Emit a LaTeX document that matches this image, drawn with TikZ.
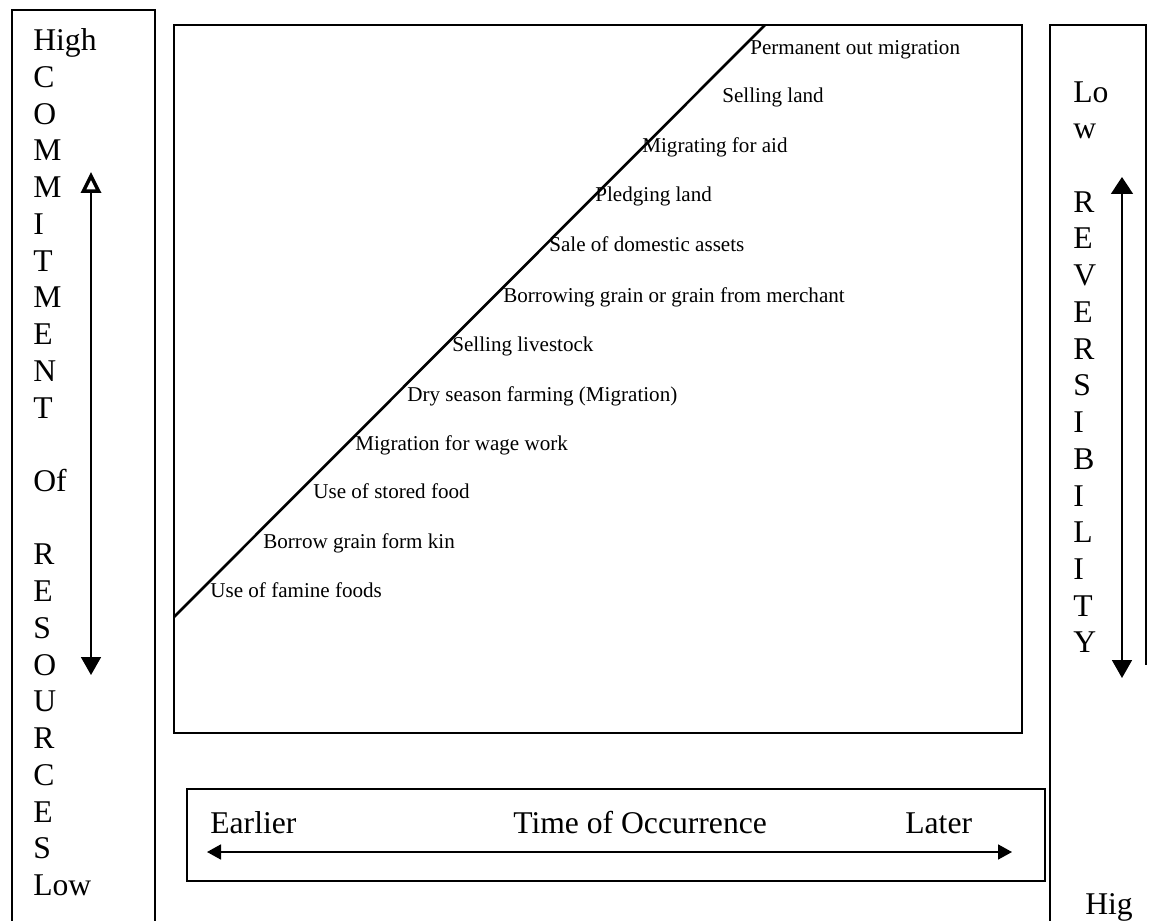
\documentclass[tikz,border=0pt]{standalone}
\usepackage{fontspec}
\setmainfont{Liberation Serif}
\usetikzlibrary{arrows.meta}
\tikzset{
    boxline/.style={draw=black, line width=1.1pt},
    colword/.style={font=\fontsize{18}{20.9}\selectfont, align=left, inner sep=0pt, anchor=north west},
    stagelabel/.style={font=\fontsize{12}{14}\selectfont, inner sep=0pt, anchor=base west},
    timeword/.style={font=\fontsize{18}{20}\selectfont, inner sep=0pt, anchor=base west},
    openvertarrow/.style={{Triangle[open,length=0.42cm,width=0.4cm,line width=2pt]}-{Triangle[length=0.36cm,width=0.4cm]}, line width=1pt},
    fullvertarrow/.style={{Triangle[length=0.34cm,width=0.44cm]}-{Triangle[length=0.36cm,width=0.4cm]}, line width=1pt},
    timearrow/.style={{Triangle[length=0.28cm,width=0.3cm]}-{Triangle[length=0.28cm,width=0.3cm]}, line width=1pt},
}

\begin{document}
\begin{tikzpicture}
    \useasboundingbox (0,0) rectangle (23.02,-18.42);

    % side frames, open at the bottom
    \draw[boxline] (0.24,-18.6) |- (3.10,-0.2) -- (3.10,-18.6);
    \draw[boxline] (21.0,-18.6) |- (22.92,-0.5) -- (22.92,-13.3);

    % main frame and strategy line
    \draw[boxline] (3.48,-0.5) rectangle (20.44,-14.66);
    \coordinate (diagstart) at (3.48,-12.34);
    \coordinate (diagend) at (15.3,-0.5);
    \draw[line width=1.5pt] (diagstart) -- (diagend);

    \node[stagelabel] (famine) at (4.2,-11.94) {Use of famine foods};
    \node[stagelabel] (kin) at (5.26,-10.96) {Borrow grain form kin};
    \node[stagelabel] (stored) at (6.26,-9.96) {Use of stored food};
    \node[stagelabel] (wage) at (7.1,-9.0) {Migration for wage work};
    \node[stagelabel] (dryseason) at (8.14,-8.04) {Dry season farming (Migration)};
    \node[stagelabel] (livestock) at (9.04,-7.02) {Selling livestock};
    \node[stagelabel] (merchant) at (10.06,-6.04) {Borrowing grain or grain from merchant};
    \node[stagelabel] (assets) at (10.98,-5.04) {Sale of domestic assets};
    \node[stagelabel] (pledging) at (11.9,-4.04) {Pledging land};
    \node[stagelabel] (aid) at (12.84,-3.06) {Migrating for aid};
    \node[stagelabel] (sellland) at (14.44,-2.06) {Selling land};
    \node[stagelabel] (permanent) at (15.0,-1.1) {Permanent out migration};

    % left column: commitment
    \node[colword] (commit) at (0.66,-0.57) {High\\C\\O\\M\\M\\I\\T\\M\\E\\N\\T\\~\\Of\\~\\R\\E\\S\\O\\U\\R\\C\\E\\S\\Low};
    \coordinate (comtop) at (1.82,-3.44);
    \coordinate (combot) at (1.82,-13.5);
    \draw[openvertarrow] (comtop) -- (combot);

    % right column: reversibility
    \node[colword] (revers) at (21.46,-1.62) {Lo\\w\\~\\R\\E\\V\\E\\R\\S\\I\\B\\I\\L\\I\\T\\Y};
    \node[timeword] (hig) at (21.7,-18.28) {Hig};
    \coordinate (revtop) at (22.44,-3.54);
    \coordinate (revbot) at (22.44,-13.56);
    \draw[fullvertarrow] (revtop) -- (revbot);

    % time axis
    \draw[boxline] (3.74,-15.78) rectangle (20.9,-17.62);
    \node[timeword] (earlier) at (4.2,-16.66) {Earlier};
    \node[timeword] (occur) at (10.26,-16.66) {Time of Occurrence};
    \node[timeword] (later) at (18.1,-16.66) {Later};
    \coordinate (timeleft) at (4.14,-17.04);
    \coordinate (timeright) at (20.24,-17.04);
    \draw[timearrow] (timeleft) -- (timeright);
\end{tikzpicture}
\end{document}
